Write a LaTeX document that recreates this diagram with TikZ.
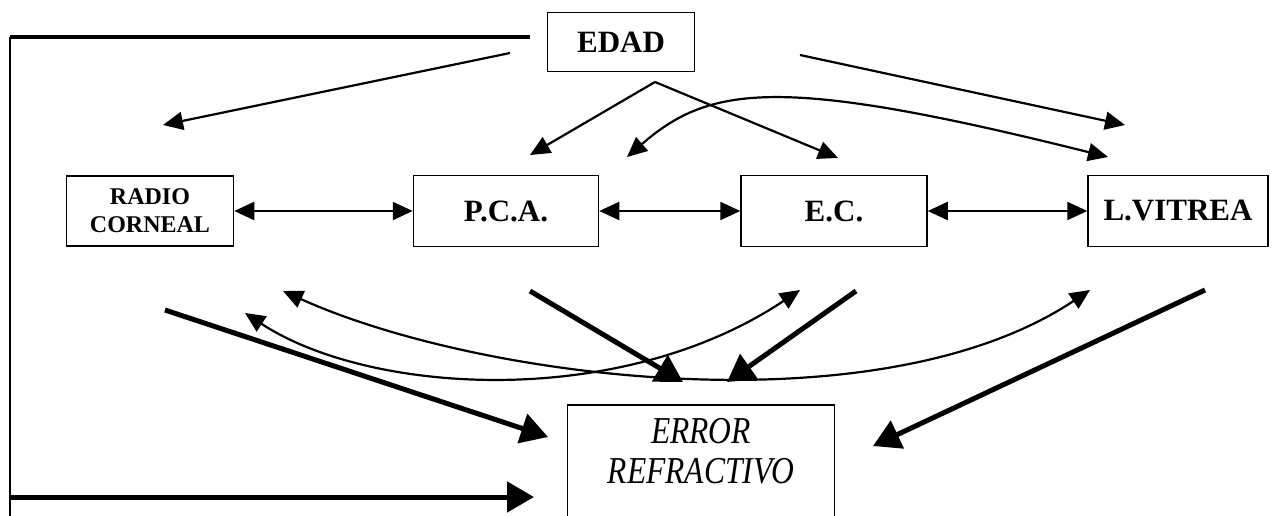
\documentclass[tikz,border=0pt]{standalone}
\usepackage{fontspec}
\setmainfont{Liberation Serif}
\usetikzlibrary{arrows.meta}
\begin{document}
\begin{tikzpicture}[x=1pt,y=-1pt,
  box/.style={draw,line width=1.5pt,inner sep=0pt,align=center},
  thin/.style={line width=2.2pt,-{Triangle[length=20pt,width=18pt]}},
  thinboth/.style={line width=2.2pt,{Triangle[length=20pt,width=18pt]}-{Triangle[length=20pt,width=18pt]}},
  thick/.style={line width=5pt,-{Triangle[length=27pt,width=30pt]}},
  lbl/.style={font=\fontsize{31}{34}\selectfont\bfseries}]
\useasboundingbox (0,0) rectangle (1272,516);
% boxes
\node[box,minimum width=147pt,minimum height=59pt,lbl] (edad) at (621,42) {EDAD};
\node[box,minimum width=167pt,minimum height=70pt,font=\fontsize{24}{28}\selectfont\bfseries] (radio) at (150,211) {RADIO\\CORNEAL};
\node[box,minimum width=185pt,minimum height=71pt,lbl] (pca) at (506,211) {P.C.A.};
\node[box,minimum width=186pt,minimum height=71pt,lbl] (ec) at (834,211) {E.C.};
\node[box,minimum width=180pt,minimum height=71pt,lbl] (lv) at (1178,211) {L.VITREA};
\node[box,minimum width=267pt,minimum height=124pt,anchor=north] (err) at (701,404) {};
\node[align=center,font=\fontsize{38}{40}\selectfont\itshape] (errt) at (701,451) {\scalebox{0.83}[1]{ERROR}\\\scalebox{0.83}[1]{REFRACTIVO}};
% coordinates
\coordinate (l0) at (530,37);
\coordinate (l1) at (10,37);
\coordinate (l2) at (10,518);
\coordinate (l3) at (10,497);
\coordinate (l4) at (534,497);
\coordinate (a1s) at (510,53);  \coordinate (a1e) at (163,125);
\coordinate (ap) at (655,82);
\coordinate (a2e) at (530,155); \coordinate (a3e) at (838,158);
\coordinate (a4s) at (800,55);  \coordinate (a4e) at (1125,125);
\coordinate (c1s) at (627,157); \coordinate (c1e) at (1108,157);
\coordinate (b1s) at (165,310); \coordinate (b1e) at (548,437);
\coordinate (b2s) at (530,291); \coordinate (b2e) at (683,382);
\coordinate (b3s) at (856,291); \coordinate (b3e) at (727,382);
\coordinate (b4s) at (1205,290); \coordinate (b4e) at (873,446);
\coordinate (d1s) at (245,313); \coordinate (d1e) at (800,290);
\coordinate (d2s) at (283,291); \coordinate (d2e) at (1090,290);
% left frame line
\draw[line width=4pt] (l0) -- (l1);
\draw[line width=1.5pt] (l1) -- (l2);
\draw[thick] (l3) -- (l4);
% top arrows
\draw[thin] (a1s) -- (a1e);
\draw[thin] (ap) -- (a2e);
\draw[thin] (ap) -- (a3e);
\draw[thin] (a4s) -- (a4e);
\draw[thinboth] (c1s) .. controls (710,85) and (780,75) .. (c1e);
% horizontal double arrows
\draw[thinboth] (radio) -- (pca);
\draw[thinboth] (pca) -- (ec);
\draw[thinboth] (ec) -- (lv);
% lower curves
\draw[thinboth] (d1s) .. controls (370,395) and (620,410) .. (d1e);
\draw[thinboth] (d2s) .. controls (480,380) and (880,430) .. (d2e);
% thick arrows to error
\draw[thick] (b1s) -- (b1e);
\draw[thick] (b2s) -- (b2e);
\draw[thick] (b3s) -- (b3e);
\draw[thick] (b4s) -- (b4e);
\end{tikzpicture}
\end{document}
